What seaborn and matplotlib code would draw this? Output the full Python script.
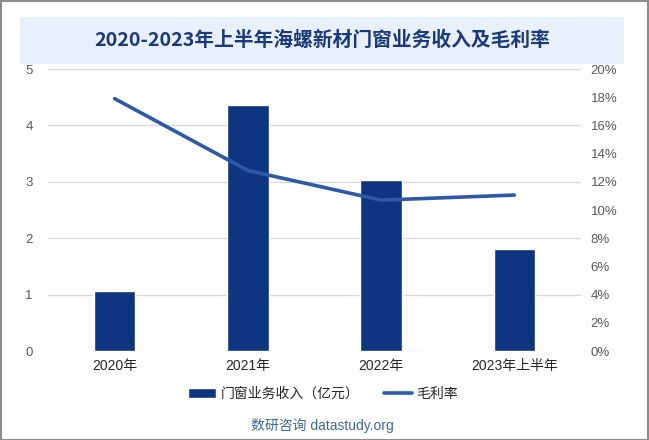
import numpy as np
import pandas as pd
import matplotlib.pyplot as plt
import seaborn as sns
from matplotlib.patches import Rectangle
from matplotlib.lines import Line2D
from matplotlib.patches import Patch

years = ['2020年', '2021年', '2022年', '2023年上半年']
revenue = [1.06, 4.36, 3.03, 1.81]
margin = [17.9, 12.8, 10.7, 11.06]

sns.set_theme(style='white')
plt.rcParams['font.family'] = ['Liberation Sans', 'Noto Sans CJK SC', 'DejaVu Sans']

df = pd.DataFrame({'year': years, 'revenue': revenue, 'margin': margin})

fig = plt.figure(figsize=(6.49, 4.40), dpi=100)
ax = fig.add_axes([48 / 649, 1 - 351 / 440, 533 / 649, 282 / 440])

sns.barplot(data=df, x='year', y='revenue', color='#0E3580', width=0.31,
            saturation=1, ax=ax, zorder=2)
ax.set_ylim(0, 5)
ax.set_yticks(range(6))
ax.grid(axis='y', color='#D9D9D9', linewidth=1, zorder=0)
ax.set_axisbelow(True)
for s in ax.spines.values():
    s.set_visible(False)
ax.set_xlabel('')
ax.set_ylabel('')
ax.tick_params(axis='y', labelsize=9.5, colors='#595959', pad=11, length=0)
ax.tick_params(axis='x', labelsize=10, colors='#262626', pad=6, length=0)

ax2 = ax.twinx()
sns.lineplot(x=np.arange(len(years)), y=margin, color='#2E59A6', linewidth=2.6,
             ax=ax2, zorder=3)
ax2.set_ylim(0, 20)
ax2.set_yticks(range(0, 21, 2))
ax2.set_yticklabels([f'{v}%' for v in range(0, 21, 2)])
ax2.tick_params(axis='y', labelsize=9.5, colors='#595959', pad=7, length=0)
for s in ax2.spines.values():
    s.set_visible(False)
ax2.grid(False)
ax.set_xlim(-0.5, len(years) - 0.5)

# title band
fig.patches.append(Rectangle((20 / 649, 1 - 64 / 440), 604 / 649, 47 / 440,
                             transform=fig.transFigure, facecolor='#E8F0FB',
                             edgecolor='none', zorder=0))
fig.text(322 / 649, 1 - 40 / 440, '2020-2023年上半年海螺新材门窗业务收入及毛利率',
         ha='center', va='center', fontsize=14.2, fontweight='bold', color='#1B3A7C',
         family=['Noto Sans CJK SC', 'DejaVu Sans'])

# frame
fig.patches.append(Rectangle((0.5 / 649, 0.5 / 440), 647.5 / 649, 438.5 / 440,
                             transform=fig.transFigure, facecolor='none',
                             edgecolor='#8C8C8C', linewidth=1.5))

handles = [Patch(facecolor='#0E3580', label='门窗业务收入（亿元）'),
           Line2D([0], [0], color='#2E59A6', linewidth=2.6, label='毛利率')]
fig.legend(handles=handles, loc='center', bbox_to_anchor=(323 / 649, 1 - 394 / 440),
           ncol=2, frameon=False, fontsize=10, handlelength=2.0, handleheight=0.7,
           columnspacing=1.8, handletextpad=0.3)

fig.text(322 / 649, 1 - 425 / 440, '数研咨询 datastudy.org', ha='center', va='center',
         fontsize=10, color='#3C6A9E')

fig.savefig('out.png', dpi=100)
